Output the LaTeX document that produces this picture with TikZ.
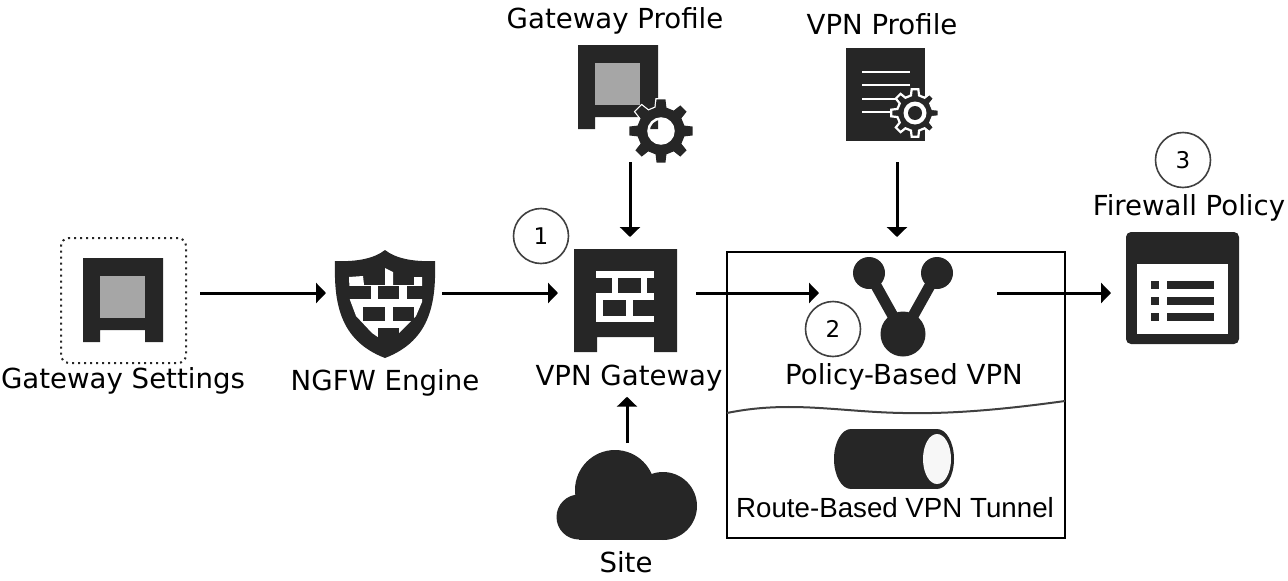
\documentclass[tikz,border=0pt]{standalone}
\usepackage{fontspec}
\setmainfont{DejaVu Sans}
\newfontfamily\arialfont{Liberation Sans}
\usetikzlibrary{arrows.meta}
\definecolor{ink}{HTML}{262626}
\definecolor{slab}{HTML}{A6A6A6}
\definecolor{ringgray}{HTML}{404040}
\newcommand{\gearteeth}{(-13:24) \foreach \a in {0,45,...,315} { -- (\a-13:24) -- (\a-8:32) -- (\a+8:32) -- (\a+13:24) } -- cycle}
\tikzset{
	hub/.style = {inner sep=0, outer sep=0, minimum width=#1},
	caption/.style = {inner sep=4.5pt, anchor=base, font=\fontsize{27.6}{32}\selectfont, text=black},
	numbered/.style = {draw=ringgray, circle, line width=1.6pt, fill=white, inner sep=0, minimum size=55pt, font=\fontsize{23}{27}\selectfont},
	gatebody/.pic = {
		\fill[ink] (0,0) -- (80,0) -- (80,84) -- (62,84) -- (62,72) -- (17,72) -- (17,84) -- (0,84) -- cycle;
		\fill[slab] (17,18) rectangle (62,60);
	},
}
\begin{document}
\begin{tikzpicture}[x=1pt, y=-1pt, >={Triangle[length=10pt, width=20pt]}, line width=3pt]
	\useasboundingbox (0,0) rectangle (1288,581);

	% anchors the arrows run between
	\node[hub=153, minimum height=112pt] (settings) at (123.5,293) {};
	\node[hub=116, minimum height=112pt] (engine) at (384,293) {};
	\node[hub=138, minimum height=112pt] (vpngw) at (627,293) {};
	\node[hub=178, minimum height=112pt] (policy) at (908,293) {};
	\node[hub=143, minimum height=112pt] (fwpolicy) at (1182.5,293) {};
	\node[hub=100, minimum height=124pt] (gwprofile) at (630,100) {};
	\node[hub=80, minimum height=114pt] (vpnprofile) at (897,105) {};
	\node[hub=140, minimum height=100pt] (site) at (627,493) {};

	% gateway settings
	\node[draw=ink, line width=2pt, dash pattern=on 2pt off 4pt, rounded corners=8pt, inner sep=0, minimum size=125pt] (settingsbox) at (123.5,300.5) {};
	\pic at (83,258) {gatebody};

	% engine shield
	\fill[ink] (385,250) .. controls (375,258) and (358,262) .. (335,261) .. controls (334,300) and (338,340) .. (385,358) .. controls (432,340) and (436,300) .. (435,261) .. controls (412,262) and (395,258) .. (385,250) -- cycle;
	\fill[white] (349,277) -- (363,276) -- (364,285) -- (385,285) -- (385,268) -- (393,272) -- (393,285) -- (414,285) -- (414,277) -- (422,277) -- (422,302) -- (416,316) -- (398,334) -- (385,342) -- (372,333) -- (356,316) -- (350,300) -- cycle;
	\fill[ink] (349,286) rectangle (371,299);
	\fill[ink] (378,286) rectangle (399,299);
	\fill[ink] (407,286) rectangle (423,299);
	\fill[ink] (363,307) rectangle (385,321);
	\fill[ink] (393,307) rectangle (414,321);
	\fill[ink] (378,328) rectangle (399,343);

	% gateway with bricks
	\fill[ink] (574,249) -- (677,249) -- (677,352) -- (654,352) -- (654,337) -- (597,337) -- (597,352) -- (574,352) -- cycle;
	\fill[white] (596,271) rectangle (654,278);
	\fill[white] (612,278) rectangle (618,293);
	\fill[white] (641,278) rectangle (647,293);
	\fill[white] (596,293) rectangle (654,300);
	\fill[white] (596,300) rectangle (603,316);
	\fill[white] (626,300) rectangle (633,316);
	\fill[white] (596,316) rectangle (654,322);

	% gateway profile
	\pic at (578,45) {gatebody};
	\draw[white, line width=2.5pt, shift={(661,131)}] \gearteeth;
	\fill[ink, even odd rule, shift={(661,131)}] \gearteeth (0,0) circle (13);
	\draw[white, line width=2.5pt] (661,131) circle (12.5);

	% vpn profile
	\fill[ink] (846,48) rectangle (925,141);
	\foreach \ypos in {72,85,99,112} {
		\draw[white, line width=1.7pt] (862,\ypos) -- (910,\ypos);
	}
	\filldraw[draw=white, fill=ink, line width=2.2pt, shift={(915,113)}, scale=.75] \gearteeth;
	\fill[white] (915,113) circle (11.5);
	\fill[ink] (915,113) circle (7);

	% cloud
	\fill[ink] (615,490) circle (40);
	\fill[ink] (663,506) circle (34);
	\fill[ink] (579,517) circle (22.5);
	\fill[ink] (579,495) rectangle (663,539.5);

	% firewall policy
	\fill[ink, rounded corners=5pt] (1126,232) rectangle (1239,344);
	\fill[white] (1137,264) rectangle (1228,334);
	\foreach \ypos in {281,297,313} {
		\fill[ink] (1151,\ypos) rectangle (1159,\ypos+7.5);
		\fill[ink] (1167,\ypos) rectangle (1214,\ypos+7.5);
	}

	% vpn frame
	\node[draw=black, line width=2.6pt, inner sep=0, minimum width=338pt, minimum height=286pt] (vpnframe) at (896,395) {};
	\draw[ringgray, line width=2pt] (727,413) .. controls (790,400) and (840,412) .. (903,413) .. controls (950,414) and (1000,410) .. (1065,401);

	% policy based icon
	\draw[ink, line width=11pt] (869,273) -- (903,334) -- (937,273);
	\fill[ink] (869,273) circle (16);
	\fill[ink] (937,273) circle (16);
	\fill[ink] (903,334) circle (22.5);

	% tunnel
	\fill[ink] (851,459) ellipse (17 and 30);
	\fill[ink] (937,459) ellipse (17 and 30);
	\fill[ink] (851,429) rectangle (937,489);
	\fill[white!97!black] (937,459) ellipse (14 and 25);

	\node[caption] (settingslabel) at (123,388) {Gateway Settings};
	\node[caption] (enginelabel) at (385,390) {NGFW Engine};
	\node[caption] (gwprofilelabel) at (615,28) {Gateway Profile};
	\node[caption] (vpnprofilelabel) at (882,34) {VPN Profile};
	\node[caption] (vpngwlabel) at (629,385) {VPN Gateway};
	\node[caption] (sitelabel) at (626,572) {Site};
	\node[caption] (fwpolicylabel) at (1189,215) {Firewall Policy};
	\node[caption] (policylabel) at (904,384) {Policy-Based VPN};
	\node[caption, font=\arialfont\fontsize{27.7}{32}\selectfont] (tunnellabel) at (895,517) {Route-Based VPN Tunnel};

	\node[numbered] (mark1) at (541,236) {1};
	\node[numbered] (mark2) at (833,329) {2};
	\node[numbered] (mark3) at (1183,160) {3};

	\draw[->] (settings) -- (engine);
	\draw[->] (engine) -- (vpngw);
	\draw[->] (vpngw) -- (policy);
	\draw[->] (policy) -- (fwpolicy);
	\draw[->] (gwprofile.south) -- (gwprofile.south |- vpngw.north);
	\draw[->] (vpnprofile.south) -- (vpnprofile.south |- policy.north);
	\draw[->] (site.north) -- (site.north |- vpngwlabel.south);
\end{tikzpicture}
\end{document}
